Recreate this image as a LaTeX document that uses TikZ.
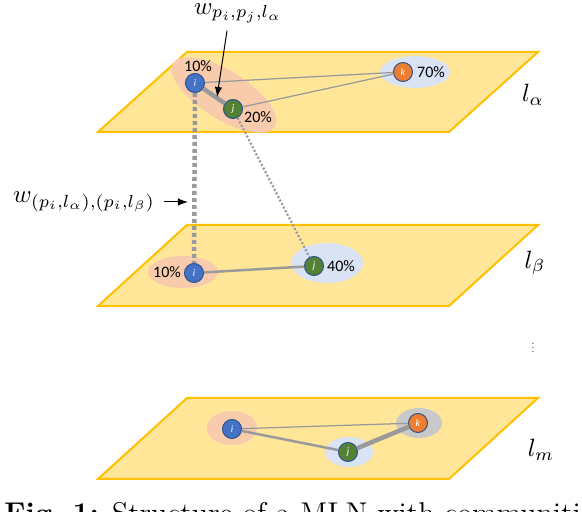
\documentclass[tikz,border=0pt]{standalone}
\usepackage{fontspec}
\newfontfamily\pctfont{Carlito}
\usetikzlibrary{positioning}
\definecolor{planefill}{HTML}{FFE699}
\definecolor{planeedge}{HTML}{FFC000}
\definecolor{commpink}{HTML}{F8CBAD}
\definecolor{commblue}{HTML}{DAE3F3}
\definecolor{commgray}{HTML}{C9C9C9}
\definecolor{edgegray}{HTML}{9A9A9A}
\definecolor{nodeblue}{HTML}{4472C4}
\definecolor{nodegreen}{HTML}{548235}
\definecolor{nodeorange}{HTML}{ED7D31}
\definecolor{nodeline}{HTML}{2F528F}
\tikzset{
	plane/.style={fill=planefill,draw=planeedge,line width=0.8pt,line join=miter},
	vtx/.style={circle,draw=nodeline,line width=0.4pt,minimum size=7.6pt,inner sep=0pt,text=white,font=\pctfont\fontsize{4}{4}\selectfont\itshape},
	pct/.style={font=\pctfont\fontsize{6.4}{7}\selectfont,inner sep=0pt},
	lnk/.style={draw=edgegray,line width=0.5pt},
	lnkmid/.style={draw=edgegray,line width=1pt},
	lnkthick/.style={draw=edgegray,line width=1.8pt},
	vlnk/.style={draw=edgegray,line width=1.8pt,dash pattern=on 1.6pt off 1.2pt},
	dlnk/.style={draw=edgegray,line width=0.9pt,dash pattern=on 0.8pt off 0.8pt}
}
\begin{document}
\begin{tikzpicture}[x=0.4pt,y=-0.4pt]
				\useasboundingbox (0,0) rectangle (582,512);
				\draw[plane] (187,52) -- (538,52) -- (449,132) -- (98,132) -- cycle;
				\draw[plane] (187,225) -- (538,225) -- (449,306) -- (98,306) -- cycle;
				\draw[plane] (187,398) -- (538,398) -- (449,479) -- (98,479) -- cycle;
				\fill[commpink,rotate around={-32:(224,95)}] (224,95) ellipse [x radius=60,y radius=24];
				\fill[commblue] (415,72) ellipse [x radius=35,y radius=16];
				\fill[commpink] (183,272) ellipse [x radius=35,y radius=16];
				\fill[commblue] (327,263) ellipse [x radius=36,y radius=20];
				\fill[commpink] (232,428) ellipse [x radius=25,y radius=17];
				\fill[commblue] (349,452) ellipse [x radius=24,y radius=15];
				\fill[commgray] (419,423) ellipse [x radius=23,y radius=15];
				\node[vtx,fill=nodeblue] (ia) at (195,83) {i};
				\node[vtx,fill=nodegreen] (ja) at (233,109) {j};
				\node[vtx,fill=nodeorange] (ka) at (403,72) {k};
				\node[vtx,fill=nodeblue] (ib) at (194,273) {i};
				\node[vtx,fill=nodegreen] (jb) at (314,266) {j};
				\node[vtx,fill=nodeblue] (im) at (232,429) {i};
				\node[vtx,fill=nodegreen] (jm) at (348,452) {j};
				\node[vtx,fill=nodeorange] (km) at (418,423) {k};
				\draw[lnk] (ia) -- (ka);
				\draw[lnk] (ja) -- (ka);
				\draw[lnkthick] (ia) -- (ja);
				\draw[vlnk] (ia) -- (ib);
				\draw[dlnk] (ja) -- (jb);
				\draw[lnkmid] (ib) -- (jb);
				\draw[lnk] (im) -- (km);
				\draw[lnkmid] (im) -- (jm);
				\draw[lnkthick] (jm) -- (km);
				\node[pct] (pia) at (198,66) {10\%};
				\node[pct] (pja) at (258,117) {20\%};
				\node[pct] (pka) at (431,72) {70\%};
				\node[pct] (pib) at (167,272) {10\%};
				\node[pct] (pjb) at (341,266) {40\%};
				\node[inner sep=0.5pt] (wa) at (238,13) {$w_{p_i,p_j,l_\alpha}$};
				\coordinate (wat) at (217,97);
				\draw[-latex] ([xshift=-4.4pt,yshift=-2.5pt]wa.south) -- (wat);
				\node (wb) at (84,202) {$w_{(p_i,l_\alpha),(p_i,l_\beta)}$};
				\coordinate (wbt) at (188,202);
				\draw[-latex] (wb.east) -- (wbt);
				\node (la) at (533,95) {$l_\alpha$};
				\node (lb) at (535,263) {$l_\beta$};
				\node (lm) at (541,450) {$l_m$};
				\node (dots) at (533,345) {\scalebox{0.4}{$\vdots$}};
				\node[anchor=base west,font=\large,inner sep=0pt] (cap) at (4,524) {\textbf{Fig.~1:} Structure of a MLN with communities};
\end{tikzpicture}
\end{document}
